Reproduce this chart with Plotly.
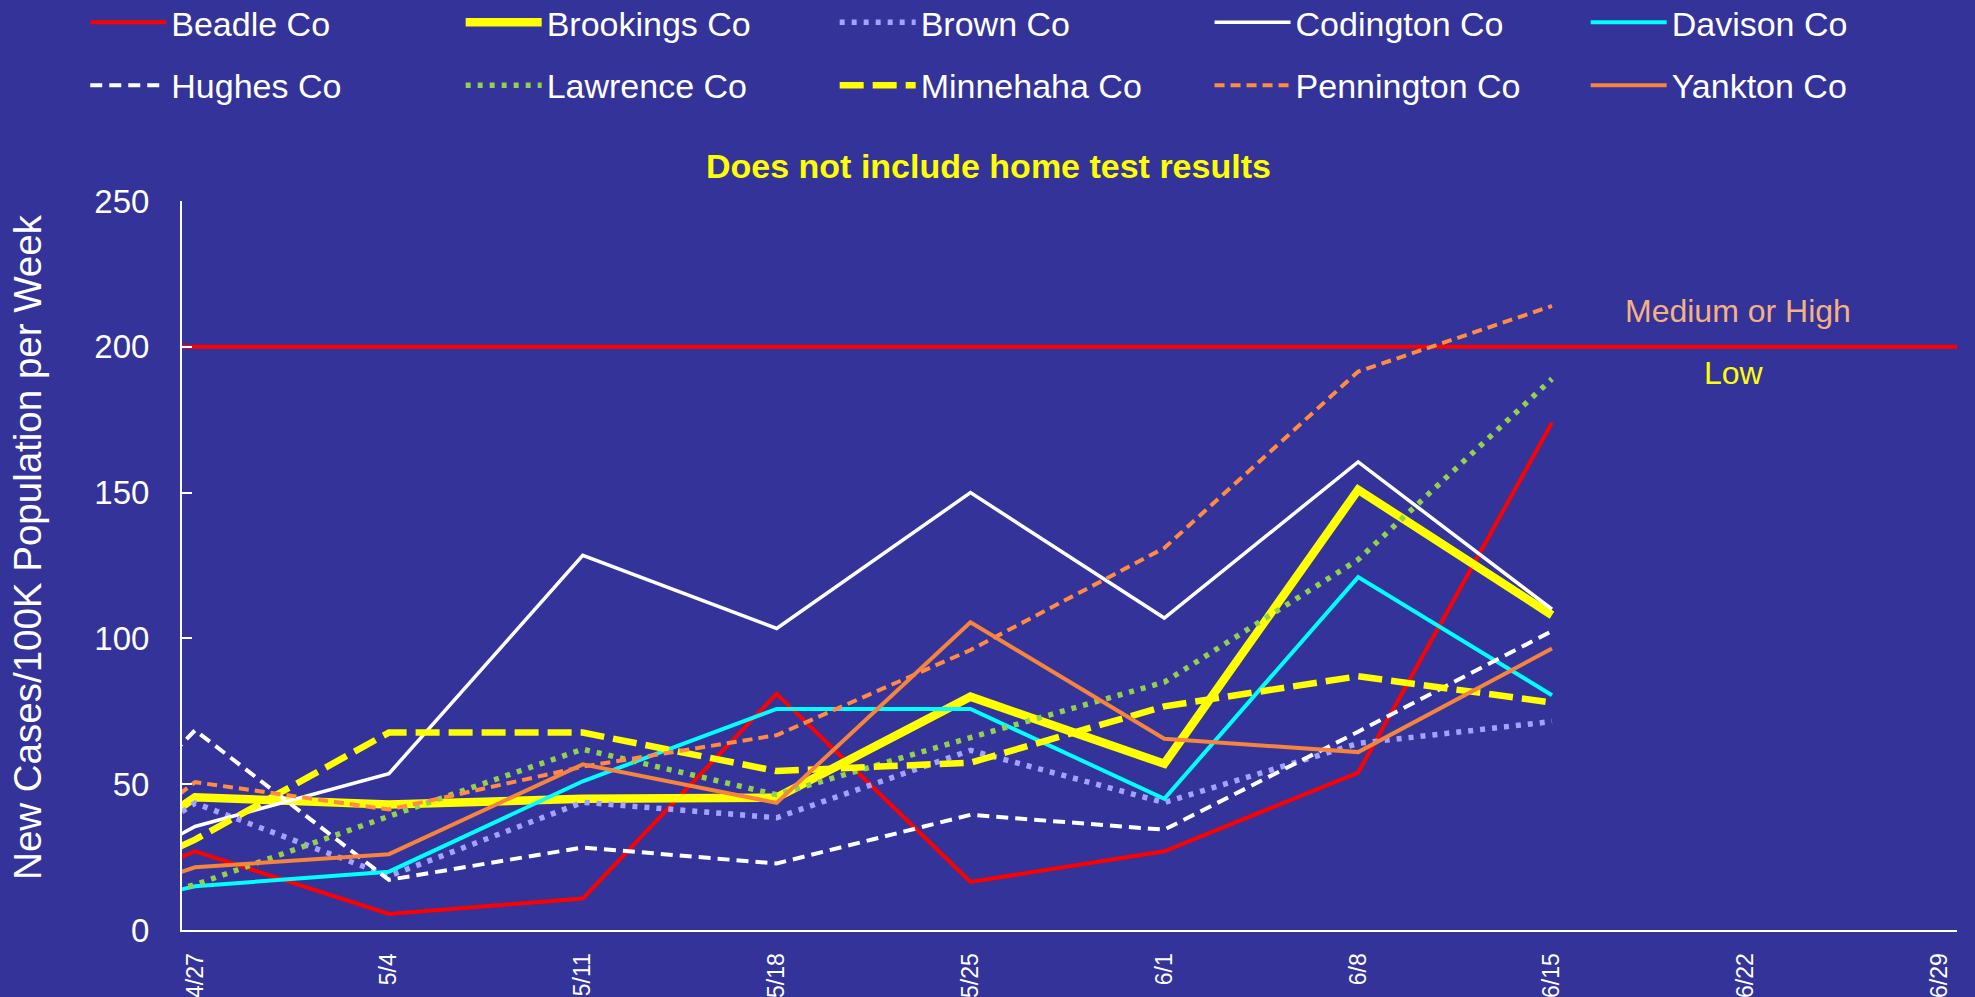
import plotly.graph_objects as go

# weekly dates (4/20 is the zero point clipped off the left edge)
weeks = ["2022-04-20", "2022-04-27", "2022-05-04", "2022-05-11", "2022-05-18",
         "2022-05-25", "2022-06-01", "2022-06-08", "2022-06-15"]
tick_dates = ["2022-04-27", "2022-05-04", "2022-05-11", "2022-05-18", "2022-05-25",
              "2022-06-01", "2022-06-08", "2022-06-15", "2022-06-22", "2022-06-29"]
tick_labels = ["4/27", "5/4", "5/11", "5/18", "5/25", "6/1", "6/8", "6/15", "6/22", "6/29"]

beadle = [0, 27, 5.5, 10.8, 81, 16.5, 27, 54, 174]
brookings = [0, 45.5, 43, 45, 45.4, 80, 57, 151, 108]
brown = [0, 43.5, 18.5, 43.8, 38.5, 61.6, 43.7, 64, 71.5]
codington = [0, 35.5, 53.6, 128.5, 103.4, 150, 107, 160.5, 110]
davison = [0, 15, 20, 51, 75.8, 75.8, 45, 121, 80.5]
hughes = [0, 68.5, 17.2, 28.3, 22.8, 39.5, 34.4, 68, 102.5]
lawrence = [0, 15.5, 39, 62, 46.4, 66, 85, 127, 189]
minnehaha = [0, 31, 67.7, 67.7, 54.5, 57.4, 76.7, 87, 78]
pennington = [0, 50.7, 41.3, 56, 66.8, 96, 131, 191.5, 214]
yankton = [0, 21.5, 26, 56.8, 43.6, 105.5, 65.6, 61, 96.5]

threshold = 200

BG = "#333399"
FONT = "Liberation Sans, Arial, sans-serif"

series = [
    ("Beadle Co", beadle, "#FF0000", 4, "solid"),
    ("Brookings Co", brookings, "#FFFF00", 8.5, "solid"),
    ("Brown Co", brown, "#A3A3FF", 5.5, "5px,7px"),
    ("Codington Co", codington, "#FFFFFF", 3.5, "solid"),
    ("Davison Co", davison, "#00FFFF", 4, "solid"),
    ("Hughes Co", hughes, "#FFFFFF", 4, "12px,7px"),
    ("Lawrence Co", lawrence, "#92D050", 5.5, "5px,7px"),
    ("Minnehaha Co", minnehaha, "#FFFF00", 6.5, "24px,9px"),
    ("Pennington Co", pennington, "#FF8C42", 4, "10px,6px"),
    ("Yankton Co", yankton, "#F5843F", 4, "solid"),
]

# legend slots: 5 columns x 2 rows (paper coords)
col_x = [-0.0545, 0.1570, 0.3677, 0.5789, 0.7908]
row_y = [1.2446, 1.1583]

fig = go.Figure()
legends = {}
for i, (name, vals, color, width, dash) in enumerate(series):
    lid = "legend" if i == 0 else "legend%d" % (i + 1)
    fig.add_trace(go.Scatter(
        x=weeks, y=vals, name=name, mode="lines",
        line=dict(color=color, width=width, dash=dash),
        legend=lid, showlegend=True,
    ))
    legends[lid] = dict(x=col_x[i % 5], y=row_y[i // 5], xref="paper", yref="paper",
                        xanchor="left", yanchor="middle", itemwidth=76, visible=True,
                        bgcolor="rgba(0,0,0,0)",
                        font=dict(family=FONT, size=34, color="#FFFFFF"))

fig.add_hline(y=threshold, line=dict(color="#FF0000", width=4), layer="below")

fig.add_annotation(text="<b>Does not include home test results</b>", xref="paper", yref="paper",
                   x=0.4545, y=1.048, xanchor="center", yanchor="middle", showarrow=False,
                   font=dict(family=FONT, size=34, color="#FFFF00"))
fig.add_annotation(text="Medium or High", xref="paper", yref="paper",
                   x=0.8766, y=0.8491, xanchor="center", yanchor="middle", showarrow=False,
                   font=dict(family=FONT, size=32, color="#F4B183"))
fig.add_annotation(text="Low", xref="paper", yref="paper",
                   x=0.8744, y=0.7641, xanchor="center", yanchor="middle", showarrow=False,
                   font=dict(family=FONT, size=32, color="#FFFF00"))
fig.add_annotation(text="New Cases/100K Population per Week", xref="paper", yref="paper",
                   x=-0.0868, y=0.5254, xanchor="center", yanchor="middle",
                   textangle=-90, showarrow=False,
                   font=dict(family=FONT, size=38.5, color="#FFFFFF"))

fig.update_layout(
    width=1975, height=997, showlegend=True,
    margin=dict(l=182, r=18, t=201, b=67, autoexpand=False),
    paper_bgcolor=BG, plot_bgcolor=BG,
    font=dict(family=FONT, color="#FFFFFF"),
    xaxis=dict(type="date", range=["2022-04-26 12:40", "2022-06-29 15:00"],
               tickmode="array", tickvals=tick_dates, ticktext=tick_labels,
               tickangle=-90, ticks="", showgrid=False, zeroline=False, automargin=False,
               showline=True, linecolor="#FFFFFF", linewidth=2,
               tickfont=dict(family=FONT, size=23, color="#FFFFFF"), ticklabelstandoff=12),
    yaxis=dict(range=[0, 250], dtick=50, ticks="inside", ticklen=10, tickwidth=2,
               tickcolor="#FFFFFF", showgrid=False, zeroline=False, automargin=False,
               showline=True, linecolor="#FFFFFF", linewidth=2,
               tickfont=dict(family=FONT, size=33, color="#FFFFFF"), ticklabelstandoff=24),
    **legends,
)

# drop the default 8px page margin so the figure sits at the window's corner
fig.write_html("out.html", config={"displayModeBar": False},
               post_script="document.body.style.margin='0';")
